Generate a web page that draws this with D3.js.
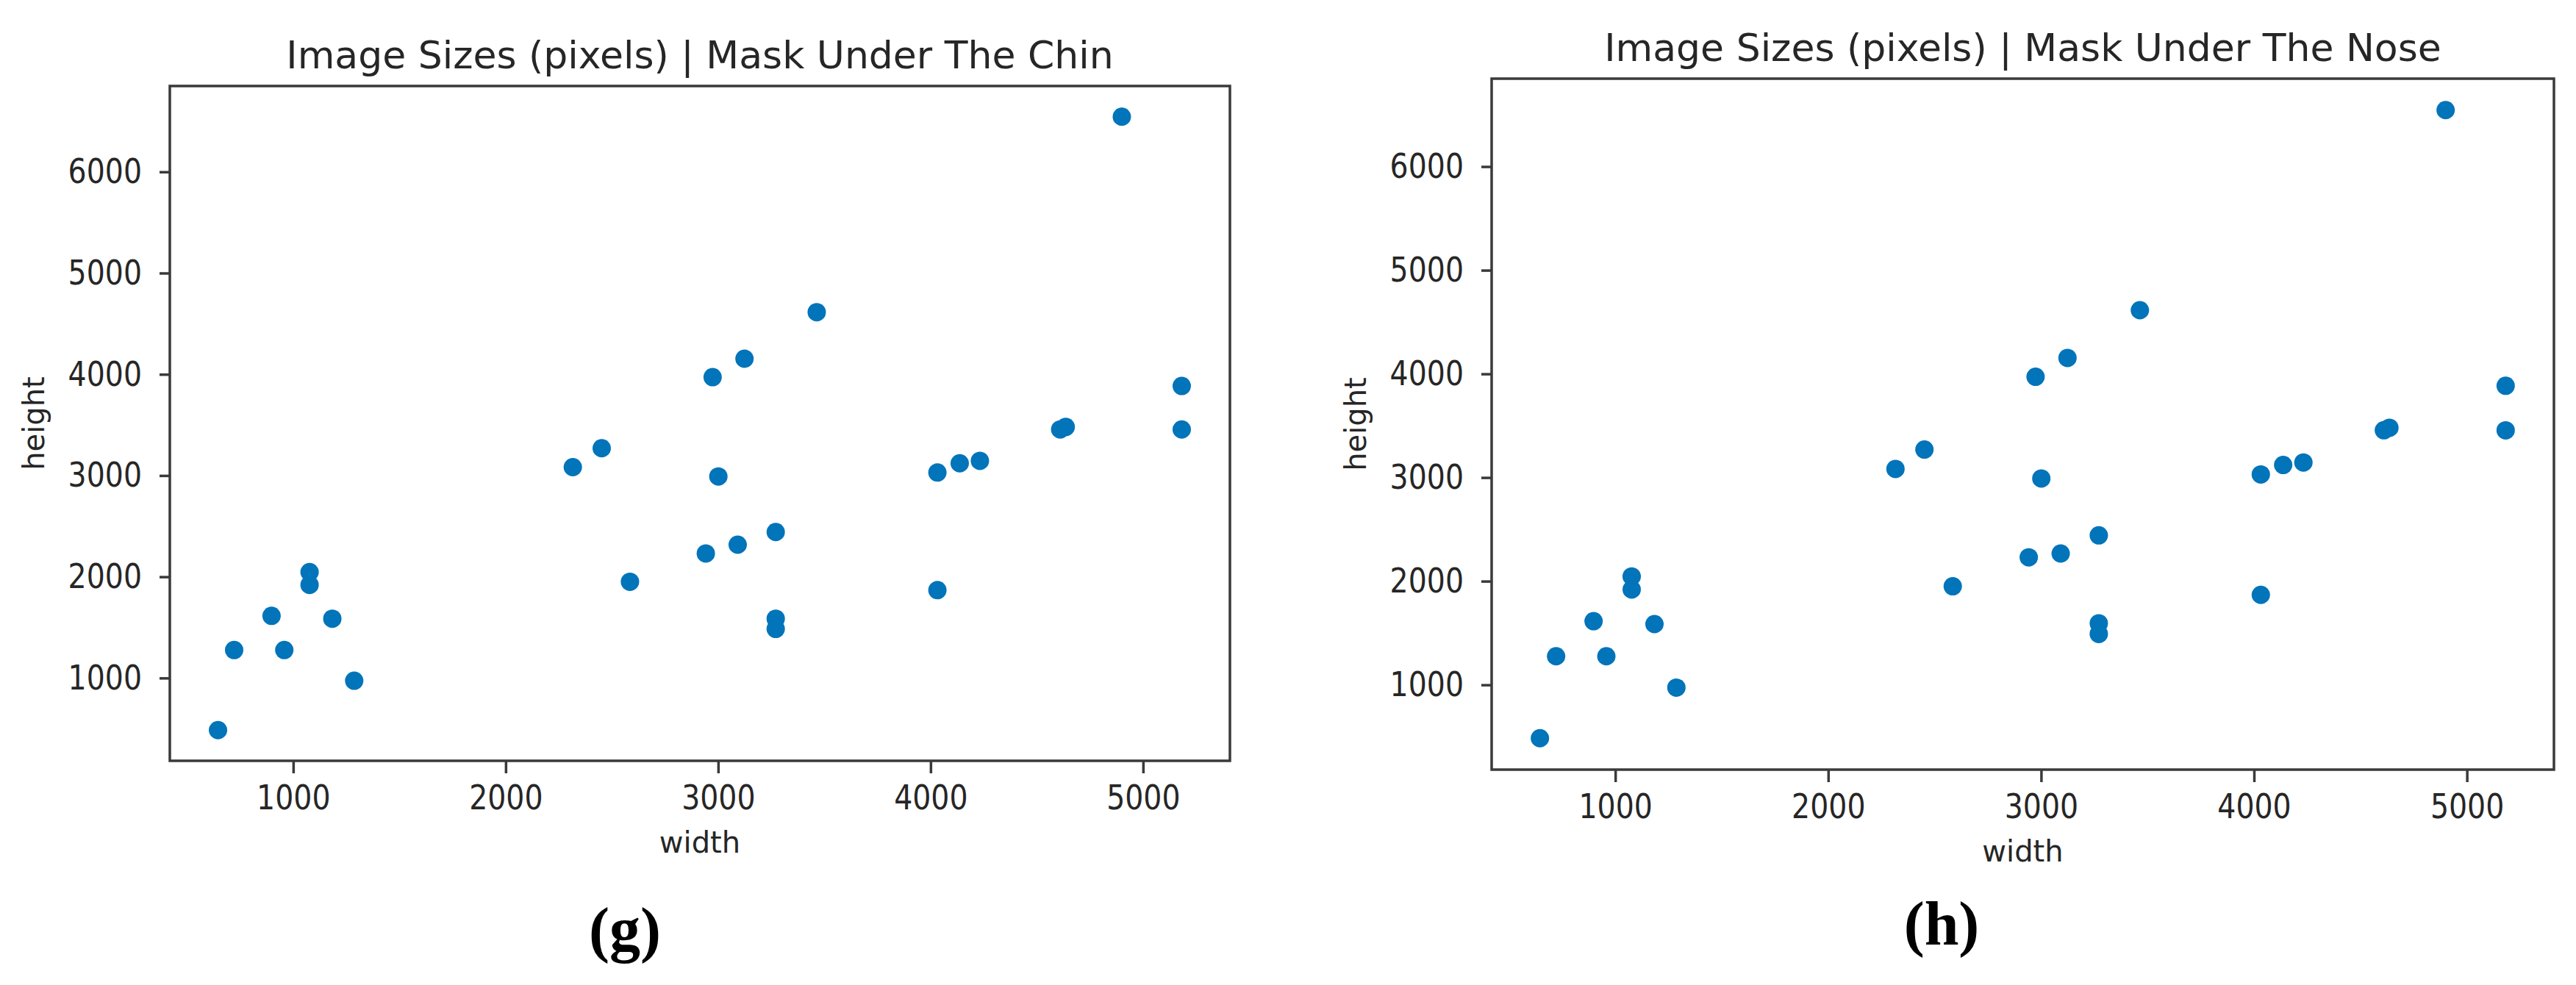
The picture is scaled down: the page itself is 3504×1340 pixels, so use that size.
<!DOCTYPE html>
<html>
<head>
<meta charset="utf-8">
<script src="https://cdn.jsdelivr.net/npm/d3@7"></script>
<style>
  html, body { margin: 0; padding: 0; background: #ffffff; }
  svg { display: block; }
</style>
</head>
<body>
<svg id="chart" width="3504" height="1340"></svg>
<script>
// ---- data ----
const chinWidth  = [4900, 3464, 3124, 2974, 5182, 4610, 4636, 5182, 4232, 4137, 4032, 2452, 2316, 3001, 3271, 3092, 2942, 2585, 4032, 3271, 3271, 1077, 1077, 898, 1184, 722, 958, 1287, 646];
const chinHeight = [6545, 4614, 4154, 3972, 3885, 3456, 3480, 3455, 3145, 3121, 3030, 3270, 3083, 2991, 2442, 2317, 2230, 1951, 1868, 1586, 1485, 2046, 1920, 1614, 1586, 1276, 1276, 973, 485];
const noseWidth  = [4900, 3464, 3124, 2974, 5182, 4610, 4636, 5182, 4232, 4137, 4032, 2452, 2316, 3001, 3271, 3092, 2942, 2585, 4032, 3271, 3271, 1077, 1077, 898, 1184, 722, 958, 1287, 646];
const noseHeight = [6545, 4614, 4154, 3972, 3885, 3456, 3480, 3455, 3145, 3121, 3030, 3270, 3083, 2991, 2442, 2267, 2230, 1951, 1868, 1594, 1491, 2046, 1920, 1614, 1586, 1276, 1276, 973, 485];
const xTicks = [1000, 2000, 3000, 4000, 5000];
const yTicks = [1000, 2000, 3000, 4000, 5000, 6000];
const titles = ["Image Sizes (pixels) | Mask Under The Chin", "Image Sizes (pixels) | Mask Under The Nose"];
const subLabels = ["(g)", "(h)"];
const xLabel = "width";
const yLabel = "height";

// ---- layout ----
const panels = [
  { w: chinWidth, h: chinHeight, title: titles[0], sub: subLabels[0],
    box: { left: 231, right: 1673, top: 117, bottom: 1035 }, subX: 850, subY: 1293 },
  { w: noseWidth, h: noseHeight, title: titles[1], sub: subLabels[1],
    box: { left: 2029, right: 3474, top: 107, bottom: 1047 }, subX: 2641, subY: 1285 }
];

const svg = d3.select("#chart");
const dotColor = "#0174ba";
const axisColor = "#3a3a3a";
const textColor = "#262626";
const sansFont = "'DejaVu Sans', Verdana, sans-serif";
const squeeze = 0.84;

function padded(values) {
  const [mn, mx] = d3.extent(values);
  const m = (mx - mn) * 0.05;
  return [mn - m, mx + m];
}

panels.forEach(p => {
  const b = p.box;
  const x = d3.scaleLinear().domain(padded(p.w)).range([b.left, b.right]);
  const y = d3.scaleLinear().domain(padded(p.h)).range([b.bottom, b.top]);
  const g = svg.append("g");

  // points
  g.append("g").selectAll("circle")
    .data(p.w.map((v, i) => [v, p.h[i]]))
    .join("circle")
    .attr("cx", d => x(d[0]))
    .attr("cy", d => y(d[1]))
    .attr("r", 12.5)
    .attr("fill", dotColor);

  // x axis
  const gx = g.append("g")
    .attr("transform", `translate(0,${b.bottom})`)
    .call(d3.axisBottom(x).tickValues(xTicks).tickFormat(d3.format("d"))
      .tickSize(17).tickPadding(16).tickSizeOuter(0));
  gx.select(".domain").remove();
  gx.selectAll(".tick line").attr("stroke", axisColor).attr("stroke-width", 3.5);
  gx.selectAll(".tick text")
    .attr("fill", textColor)
    .style("font-family", sansFont).style("font-size", "47px")
    .attr("transform", `scale(${squeeze},1)`);

  // y axis
  const gy = g.append("g")
    .attr("transform", `translate(${b.left},0)`)
    .call(d3.axisLeft(y).tickValues(yTicks).tickFormat(d3.format("d"))
      .tickSize(14).tickPadding(24).tickSizeOuter(0));
  gy.select(".domain").remove();
  gy.selectAll(".tick line").attr("stroke", axisColor).attr("stroke-width", 3.5);
  gy.selectAll(".tick text")
    .attr("fill", textColor)
    .style("font-family", sansFont).style("font-size", "47px")
    .attr("x", -38 / squeeze)
    .attr("transform", `scale(${squeeze},1)`);

  // frame
  g.append("rect")
    .attr("x", b.left).attr("y", b.top)
    .attr("width", b.right - b.left).attr("height", b.bottom - b.top)
    .attr("fill", "none").attr("stroke", axisColor).attr("stroke-width", 3.5);

  // title
  const cx = (b.left + b.right) / 2;
  g.append("text")
    .attr("x", cx).attr("y", b.top - 24)
    .attr("text-anchor", "middle")
    .attr("fill", textColor)
    .style("font-family", sansFont).style("font-size", "52px")
    .text(p.title);

  // x label
  g.append("text")
    .attr("x", cx).attr("y", b.bottom + 125)
    .attr("text-anchor", "middle")
    .attr("fill", textColor)
    .style("font-family", sansFont).style("font-size", "40px")
    .text(xLabel);

  // y label
  const cy = (b.top + b.bottom) / 2;
  g.append("text")
    .attr("transform", `translate(${b.left - 185},${cy}) rotate(-90)`)
    .attr("text-anchor", "middle")
    .attr("dy", "0.36em")
    .attr("fill", textColor)
    .style("font-family", sansFont).style("font-size", "40px")
    .text(yLabel);

  // sub-figure label
  svg.append("text")
    .attr("x", p.subX).attr("y", p.subY)
    .attr("text-anchor", "middle")
    .attr("fill", "#000")
    .style("font-family", "'Liberation Serif', 'Times New Roman', serif")
    .style("font-weight", "bold")
    .style("font-size", "84px")
    .text(p.sub);
});
</script>
</body>
</html>
